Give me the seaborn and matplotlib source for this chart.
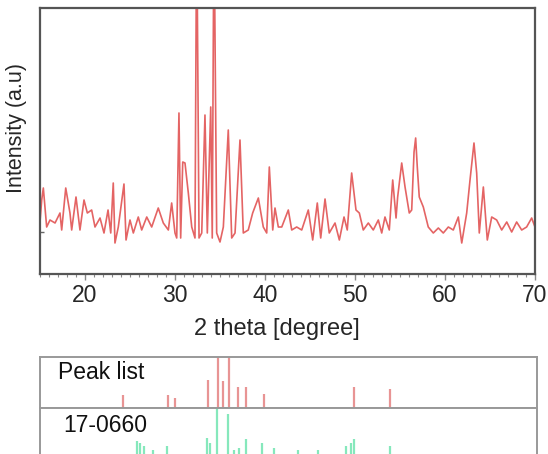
import numpy as np
import pandas as pd
import seaborn as sns
import matplotlib
matplotlib.use('Agg')
import matplotlib.pyplot as plt
from matplotlib.ticker import MultipleLocator

# XRD pattern (2 theta in degree, intensity in arbitrary units)
two_theta = [15.00, 15.19, 15.37, 15.74, 16.11, 16.67, 17.22, 17.41, 17.86, 18.33, 18.52,
             19.00, 19.44, 19.89, 20.26, 20.74, 21.11, 21.67, 22.11, 22.56, 22.86, 23.14,
             23.33, 23.70, 24.33, 24.56, 25.00, 25.37, 25.92, 26.30, 26.86, 27.41, 28.14,
             28.70, 29.26, 29.63, 30.00, 30.19, 30.44, 30.63, 30.86, 31.11, 31.48, 31.86,
             32.22, 32.41, 32.67, 32.97, 33.33, 33.59, 33.97, 34.14, 34.33, 34.63, 35.00,
             35.37, 35.92, 36.30, 36.67, 37.22, 37.59, 38.14, 38.63, 39.26, 39.81, 40.19,
             40.48, 40.86, 41.11, 41.48, 41.86, 42.59, 42.97, 43.52, 44.08, 44.81, 45.30,
             45.81, 46.19, 46.67, 47.14, 47.78, 48.26, 48.78, 49.14, 49.63, 50.11, 50.48,
             50.92, 51.48, 52.03, 52.59, 52.97, 53.33, 53.81, 54.19, 54.56, 54.74, 55.19,
             55.56, 56.03, 56.30, 56.56, 56.74, 56.92, 57.14, 57.59, 58.14, 58.70, 59.26,
             59.81, 60.37, 60.92, 61.48, 61.86, 62.41, 62.78, 63.22, 63.52, 63.81, 64.26,
             64.70, 65.19, 65.74, 66.30, 66.86, 67.41, 67.96, 68.52, 69.07, 69.63, 70.00]
intensity = [10, 32, 44, 5, 12, 9, 19, 2, 44, 19, 2,
             35, 2, 32, 19, 22, 5, 14, -1, 22, -1, 49,
             -11, 5, 48, -8, 12, -1, 15, 2, 15, 5, 24,
             9, 2, 29, -1, -6, 119, -6, 70, 69, 39, 5,
             -6, 320, -6, -1, 117, -1, 125, -6, 320, -1, -10,
             5, 102, -6, -1, 92, -1, 2, 19, 34, 5, -1,
             65, 2, 24, 5, 5, 22, 2, 5, 2, 22, -8,
             29, -6, 33, -1, 9, -8, 15, 2, 59, 22, 19,
             2, 9, 2, 12, -1, 15, 2, 52, 14, 35, 69,
             45, 19, 22, 80, 94, 65, 35, 25, 5, -1, 4,
             -1, 5, 2, 15, -11, 19, 52, 89, 59, -1, 45,
             -8, 15, 12, 2, 10, 0, 10, 2, 5, 14, 5]

# reference stick patterns (relative heights)
peak_pos = [24.23, 29.12, 29.90, 33.56, 34.72, 35.30, 35.96, 36.90, 37.75, 39.80, 49.76, 53.68]
peak_height = [0.25, 0.25, 0.20, 0.54, 1.00, 0.53, 1.00, 0.42, 0.41, 0.28, 0.42, 0.38]

card_pos = [25.71, 26.02, 26.49, 27.53, 29.01, 33.48, 33.79, 34.64, 35.81, 36.51,
            36.97, 37.75, 39.61, 40.86, 43.58, 45.71, 48.82, 49.41, 49.79, 53.68]
card_height = [0.46, 0.43, 0.38, 0.32, 0.39, 0.52, 0.43, 1.00, 0.91, 0.32,
               0.35, 0.50, 0.43, 0.35, 0.32, 0.32, 0.39, 0.43, 0.50, 0.39]

sns.set_theme(style="white")
plt.rcParams['font.family'] = ['Liberation Sans', 'DejaVu Sans']

df = pd.DataFrame({'two_theta': two_theta, 'intensity': intensity})

fig = plt.figure(figsize=(5.48, 4.54), dpi=100)
W, H = 548, 454

def px_axes(x0, y0, x1, y1):
    return fig.add_axes([x0 / W, 1 - y1 / H, (x1 - x0) / W, (y1 - y0) / H])

# main pattern
ax = px_axes(40, 8, 535, 274)
sns.lineplot(data=df, x='two_theta', y='intensity', ax=ax, color='#e46464',
             linewidth=1.2, estimator=None, sort=False)
ax.set_xlim(15, 70)
ax.set_ylim(-42, 224)
ax.set_xticks([20, 30, 40, 50, 60, 70])
ax.xaxis.set_minor_locator(MultipleLocator(1))
ax.set_yticks([0])
ax.set_yticklabels([''])
ax.tick_params(axis='x', which='major', direction='out', length=4, width=1,
               color='#888888', labelsize=16.5, pad=3, bottom=True)
ax.tick_params(axis='x', which='minor', direction='out', length=2, width=0.8,
               color='#888888', bottom=True)
ax.tick_params(axis='y', direction='in', length=3, width=1, color='#666666', left=True)
ax.set_xlabel('2 theta [degree]', fontsize=17)
ax.xaxis.set_label_coords(0.479, -0.165)
ax.set_ylabel('Intensity (a.u)', fontsize=15.5)
ax.yaxis.set_label_coords(-0.026, 0.55)
for sp in ax.spines.values():
    sp.set_color('#555555')
    sp.set_linewidth(1.6)

# peak list panel
ax2 = px_axes(40, 357, 537, 408)
ax2.vlines(peak_pos, 0, peak_height, color='#e89494', linewidth=1.6)
ax2.set_xlim(15, 70)
ax2.set_ylim(0, 1.0)
ax2.set_xticks([])
ax2.set_yticks([])
ax2.text(0.036, 0.7, 'Peak list', transform=ax2.transAxes, fontsize=16.5,
         va='center', ha='left', color='#111111')
for sp in ax2.spines.values():
    sp.set_color('#999999')
    sp.set_linewidth(1.4)

# reference card panel (runs off the bottom of the figure)
ax3 = px_axes(40, 408, 537, 470)
ax3.vlines(card_pos, 0, card_height, color='#86e8bc', linewidth=1.6)
ax3.set_xlim(15, 70)
ax3.set_ylim(0, 1.0)
ax3.set_xticks([])
ax3.set_yticks([])
ax3.text(0.046, 0.72, '17-0660', transform=ax3.transAxes, fontsize=16.5,
         va='center', ha='left', color='#111111')
for sp in ax3.spines.values():
    sp.set_color('#999999')
    sp.set_linewidth(1.4)

fig.savefig('out.png', dpi=100)
plt.close(fig)
